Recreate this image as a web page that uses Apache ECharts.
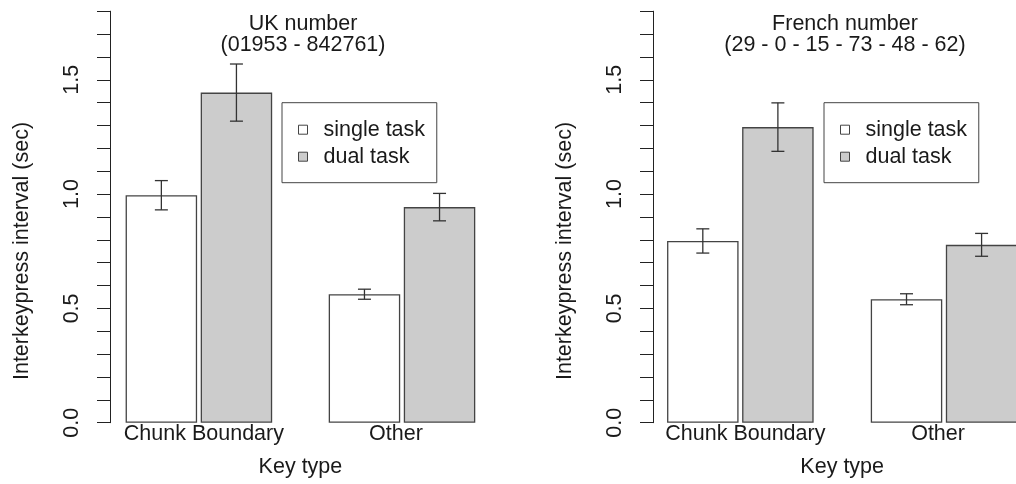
<!DOCTYPE html>
<html>
<head>
<meta charset="utf-8">
<title>Interkeypress interval by key type</title>
<script src="https://cdn.jsdelivr.net/npm/echarts@6/dist/echarts.min.js"></script>
<style>
  html, body { margin: 0; padding: 0; background: #ffffff; }
  #chart { width: 1016px; height: 484px; }
</style>
</head>
<body>
<div id="chart"></div>
<script>
// Key types on the x axis
const categories = ['Chunk Boundary', 'Other'];
const seriesNames = ['single task', 'dual task'];

// UK number (01953 - 842761): means and standard errors (sec)
const ukSingle = [0.995, 0.562];
const ukSingleSe = [0.064, 0.022];
const ukDual = [1.444, 0.943];
const ukDualSe = [0.125, 0.060];

// French number (29 - 0 - 15 - 73 - 48 - 62)
const frSingle = [0.795, 0.540];
const frSingleSe = [0.053, 0.024];
const frDual = [1.293, 0.778];
const frDualSe = [0.106, 0.050];

const panelTitles = ['UK number\n(01953 - 842761)', 'French number\n(29 - 0 - 15 - 73 - 48 - 62)'];
const yTitle = 'Interkeypress interval (sec)';
const xTitle = 'Key type';

const FONT = '"Liberation Sans", Arial, Helvetica, sans-serif';
const FS = 21.5;
const INK = '#1a1a1a';
const EDGE = '#444444';
const FILLS = ['#ffffff', '#cccccc'];
const BAR_W = 71.5;
const GAP_PCT = 0.05;

// The second panel runs past the right edge of the canvas, so its plot box is allowed to overflow
const panels = [
  { grid: { left: 97.35, width: 406.2 }, axisOffset: -12.65, titleX: 303, yTitleX: 22,
    means: [ukSingle, ukDual], ses: [ukSingleSe, ukDualSe], legendLeft: 282 },
  { grid: { left: 638.5, width: 407.4 }, axisOffset: -14.5, titleX: 845, yTitleX: 565,
    means: [frSingle, frDual], ses: [frSingleSe, frDualSe], legendLeft: 824 }
];

const grids = [], xAxes = [], yAxes = [], series = [], titles = [], legends = [], graphics = [];

panels.forEach((p, pi) => {
  grids.push({
    left: p.grid.left, width: p.grid.width, top: 11.2, bottom: 61.3,
    containLabel: false, outerBoundsMode: 'none'
  });

  xAxes.push({
    type: 'category', gridIndex: pi, data: categories,
    axisLine: { show: false }, axisTick: { show: false }, splitLine: { show: false },
    axisLabel: {
      margin: 0, color: INK, fontFamily: FONT, fontSize: FS, interval: 0,
      formatter: (v) => v === categories[0] ? '{a|' + v + '}' : '{b|' + v + '}',
      rich: {
        a: { fontFamily: FONT, fontSize: FS, color: INK, padding: [0, 0, 0, 10] },
        b: { fontFamily: FONT, fontSize: FS, color: INK, padding: [0, 12, 0, 0] }
      }
    },
    name: xTitle, nameLocation: 'middle', nameGap: 33,
    nameTextStyle: { color: INK, fontFamily: FONT, fontSize: FS }
  });

  yAxes.push({
    type: 'value', gridIndex: pi, min: 0, max: 1.8, interval: 0.1, offset: p.axisOffset,
    axisLine: { show: true, lineStyle: { color: '#222', width: 1 } },
    axisTick: { show: true, length: 13, lineStyle: { color: '#222', width: 1 } },
    splitLine: { show: false },
    axisLabel: {
      rotate: 90, margin: 27, color: INK, fontFamily: FONT, fontSize: FS, showMinLabel: true, showMaxLabel: true,
      formatter: (v) => (Math.round(v * 10) % 5 === 0 ? v.toFixed(1) : '')
    }
  });

  // Bars for each task condition
  seriesNames.forEach((name, si) => {
    series.push({
      type: 'bar', name: name, xAxisIndex: pi, yAxisIndex: pi,
      data: p.means[si], barWidth: BAR_W, barGap: (GAP_PCT * 100) + '%',
      itemStyle: { color: FILLS[si], borderColor: EDGE, borderWidth: 1.3 },
      emphasis: { disabled: true }, z: 2
    });
  });

  // Standard-error whiskers centred on each bar
  seriesNames.forEach((name, si) => {
    const shift = (si === 0 ? -1 : 1) * (BAR_W * (1 + GAP_PCT)) / 2;
    series.push({
      type: 'custom', name: name, xAxisIndex: pi, yAxisIndex: pi, z: 5,
      data: p.means[si].map((m, i) => [i, m - p.ses[si][i], m + p.ses[si][i]]),
      renderItem: (params, api) => {
        const lo = api.coord([api.value(0), api.value(1)]);
        const hi = api.coord([api.value(0), api.value(2)]);
        const x = lo[0] + shift;
        const cap = 6.5;
        const st = { stroke: '#333', lineWidth: 1.3, fill: null };
        return {
          type: 'group',
          children: [
            { type: 'line', shape: { x1: x, y1: lo[1], x2: x, y2: hi[1] }, style: st },
            { type: 'line', shape: { x1: x - cap, y1: lo[1], x2: x + cap, y2: lo[1] }, style: st },
            { type: 'line', shape: { x1: x - cap, y1: hi[1], x2: x + cap, y2: hi[1] }, style: st }
          ]
        };
      },
      silent: true, tooltip: { show: false }
    });
  });

  titles.push({
    text: panelTitles[pi], left: p.titleX, top: 13.5, textAlign: 'center', padding: 0,
    textStyle: { color: INK, fontFamily: FONT, fontSize: FS, fontWeight: 'normal', lineHeight: 21 }
  });

  legends.push({
    data: seriesNames, orient: 'vertical', left: p.legendLeft, top: 102.7,
    padding: [16, 11.7, 15, 16], itemGap: 5, itemWidth: 9, itemHeight: 9, icon: 'rect',
    borderColor: EDGE, borderWidth: 1, backgroundColor: '#ffffff',
    selectedMode: false,
    itemStyle: { borderColor: EDGE, borderWidth: 1 },
    textStyle: { color: INK, fontFamily: FONT, fontSize: FS, padding: [0, 0, 0, 11] }
  });

  graphics.push({
    type: 'text', x: p.yTitleX, y: 251, rotation: Math.PI / 2,
    style: { text: yTitle, fill: INK, font: FS + 'px ' + FONT, align: 'center', verticalAlign: 'middle' }
  });
});

const chart = echarts.init(document.getElementById('chart'), null, { renderer: 'canvas' });
chart.setOption({
  animation: false,
  backgroundColor: '#ffffff',
  title: titles,
  legend: legends,
  grid: grids,
  xAxis: xAxes,
  yAxis: yAxes,
  series: series,
  graphic: graphics
});
</script>
</body>
</html>
